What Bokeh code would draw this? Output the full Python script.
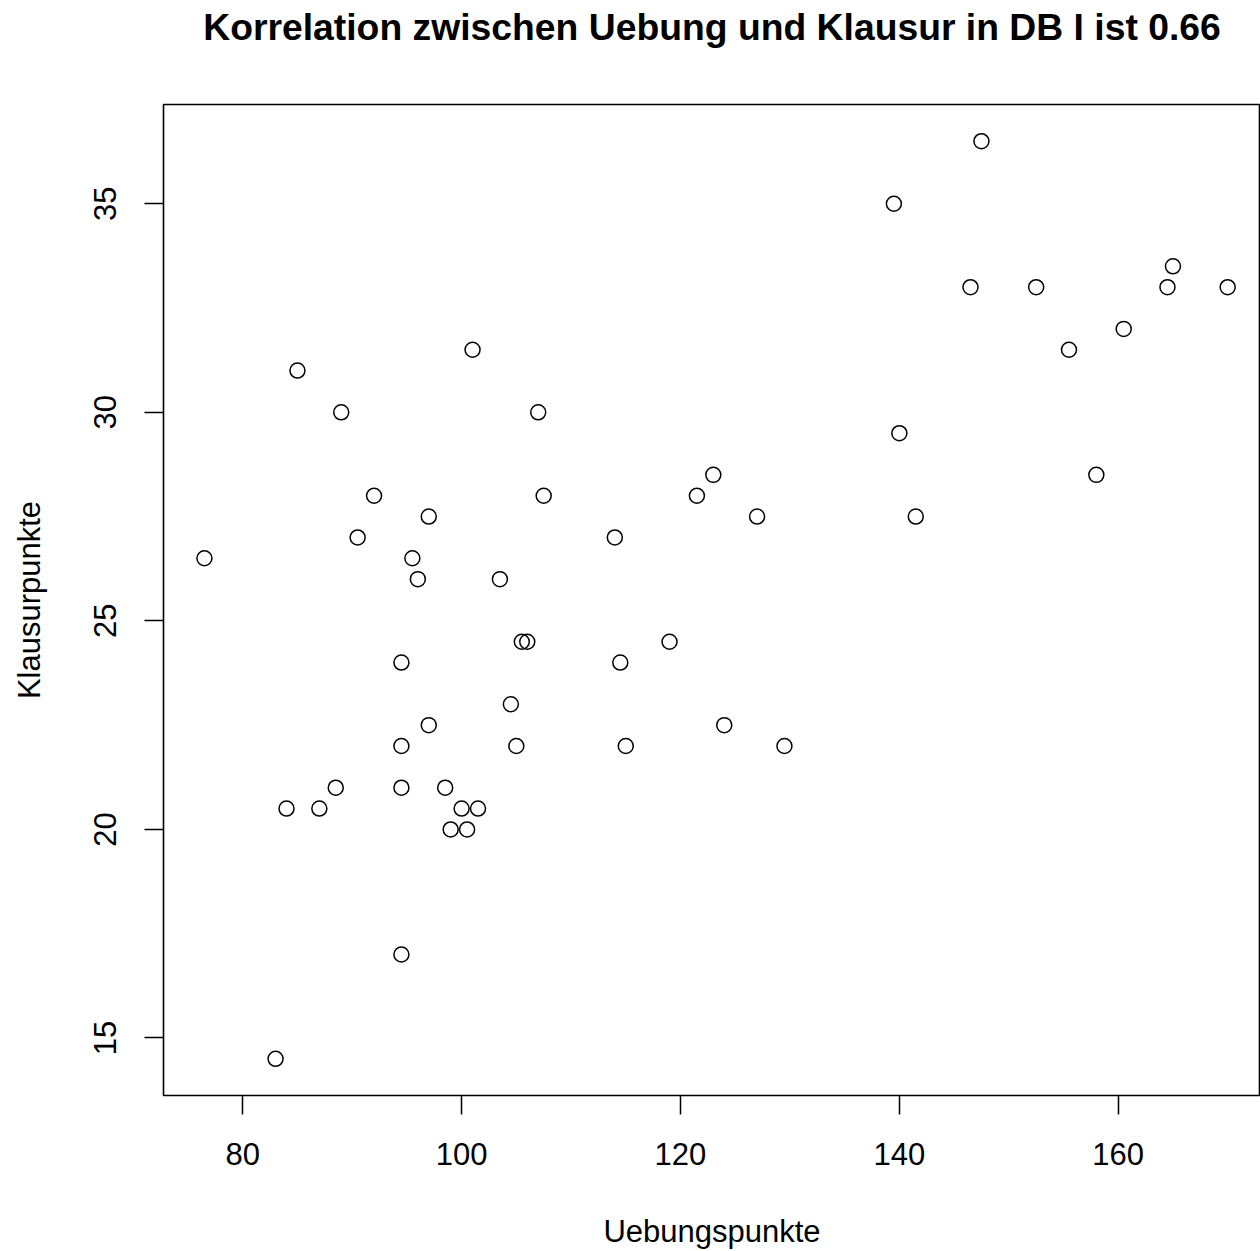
from bokeh.plotting import figure
from bokeh.models import FixedTicker, Range1d, LinearAxis
from bokeh.embed import file_html
from bokeh.resources import INLINE

# Data
uebung = [76.5, 83.0, 85.0, 89.0, 92.0, 90.5, 97.0, 95.5, 96.0, 94.5,
          97.0, 94.5, 94.5, 88.5, 84.0, 87.0, 94.5, 98.5, 100.0, 101.5,
          99.0, 100.5, 101.0, 103.5, 104.5, 105.0, 105.5, 106.0, 107.0, 107.5,
          114.0, 114.5, 115.0, 119.0, 121.5, 123.0, 124.0, 127.0, 129.5, 139.5,
          140.0, 141.5, 146.5, 147.5, 152.5, 155.5, 158.0, 160.5, 164.5, 165.0,
          170.0]
klausur = [26.5, 14.5, 31.0, 30.0, 28.0, 27.0, 27.5, 26.5, 26.0, 24.0,
           22.5, 22.0, 21.0, 21.0, 20.5, 20.5, 17.0, 21.0, 20.5, 20.5,
           20.0, 20.0, 31.5, 26.0, 23.0, 22.0, 24.5, 24.5, 30.0, 28.0,
           27.0, 24.0, 22.0, 24.5, 28.0, 28.5, 22.5, 27.5, 22.0, 35.0,
           29.5, 27.5, 33.0, 36.5, 33.0, 31.5, 28.5, 32.0, 33.0, 33.5,
           33.0]
x_ticks = [80, 100, 120, 140, 160]
y_ticks = [15, 20, 25, 30, 35]
title_text = "Korrelation zwischen Uebung und Klausur in DB I ist 0.66"

FONT = "Liberation Sans"

p = figure(width=1260, height=1251, output_backend="svg", toolbar_location=None,
           x_range=Range1d(72.76, 173.0), y_range=Range1d(13.62, 37.38),
           min_border_left=163, min_border_right=0, min_border_top=104,
           min_border_bottom=155)

p.background_fill_color = "white"
p.border_fill_color = "white"
p.outline_line_color = "black"
p.outline_line_width = 1.6
p.xgrid.visible = False
p.ygrid.visible = False

p.scatter(uebung, klausur, marker="circle", size=15, fill_color=None,
          line_color="black", line_width=1.5)

bottom = p.below[0]
left = p.left[0]

for ax in (bottom, left):
    ax.axis_line_color = None
    ax.major_tick_out = 19
    ax.major_tick_in = 0
    ax.minor_tick_out = 0
    ax.minor_tick_in = 0
    ax.major_tick_line_color = "black"
    ax.major_tick_line_width = 1.5
    ax.major_label_text_font = FONT
    ax.major_label_text_font_size = "31px"
    ax.major_label_text_color = "black"
    ax.axis_label_text_font = FONT
    ax.axis_label_text_font_size = "31px"
    ax.axis_label_text_font_style = "normal"
    ax.axis_label_text_color = "black"

bottom.ticker = FixedTicker(ticks=x_ticks)
left.ticker = FixedTicker(ticks=y_ticks)
bottom.axis_label = "Uebungspunkte"
left.axis_label = "Klausurpunkte"
bottom.major_label_standoff = 28
left.major_label_standoff = 28
left.major_label_orientation = "vertical"
bottom.axis_label_standoff = 46
left.axis_label_standoff = 45

# Main title: drawn as the label of a tick-less axis above the plot box
title_axis = LinearAxis(ticker=FixedTicker(ticks=[]), axis_label=title_text)
title_axis.axis_line_color = None
title_axis.major_tick_line_color = None
title_axis.minor_tick_line_color = None
title_axis.major_tick_out = 0
title_axis.major_tick_in = 0
title_axis.minor_tick_out = 0
title_axis.minor_tick_in = 0
title_axis.major_label_standoff = 0
title_axis.major_label_text_font_size = "0px"
title_axis.axis_label_text_font = FONT
title_axis.axis_label_text_font_size = "37.3px"
title_axis.axis_label_text_font_style = "bold"
title_axis.axis_label_text_color = "black"
title_axis.axis_label_standoff = 57
p.add_layout(title_axis, "above")

open("out.html", "w").write(file_html(p, INLINE))
